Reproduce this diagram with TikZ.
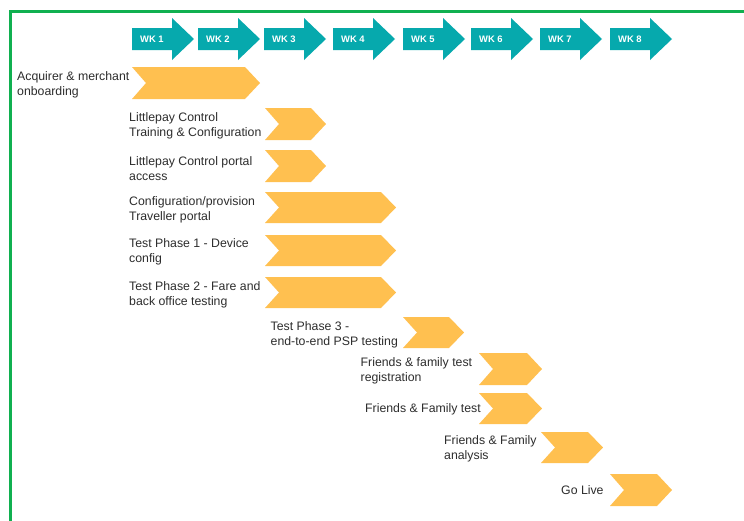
\documentclass[tikz,border=0pt]{standalone}
\usepackage{fontspec}
\setmainfont{Liberation Sans}

\definecolor{framegreen}{RGB}{16,176,80}
\definecolor{weekteal}{RGB}{6,169,173}
\definecolor{barorange}{RGB}{255,192,80}
\definecolor{labelgray}{RGB}{45,45,45}

\tikzset{
  frameline/.style={draw=framegreen, line width=3pt},
  weekfill/.style={fill=weekteal},
  barfill/.style={fill=barorange},
  weeklabel/.style={anchor=west, inner sep=0pt, text=white,
    font=\bfseries\fontsize{9.4}{10}\selectfont},
  tasklabel/.style={anchor=west, inner sep=0pt, align=left, text=labelgray,
    font=\fontsize{12.3}{14.8}\selectfont},
}

% week header arrow: name, left x, label
\newcommand\weekarrow[3]{%
  \fill[weekfill] (#2,28) -- (#2+40,28) -- (#2+40,18) -- (#2+62,39)
    -- (#2+40,60) -- (#2+40,50) -- (#2,50) -- cycle;
  \node[weeklabel] (#1) at (#2+8,39.5) {#3};}

% task chevron: name, left x, right x, top y, bottom y
\newcommand\taskbar[5]{%
  \fill[barfill] (#2,#4) -- (#3-15,#4) -- (#3,{(#4+#5)/2}) -- (#3-15,#5)
    -- (#2,#5) -- (#2+14,{(#4+#5)/2}) -- cycle;
  \coordinate (#1) at (#2,{(#4+#5)/2});}

\begin{document}
\begin{tikzpicture}[x=1pt, y=-1pt]
\useasboundingbox (0,0) rectangle (744,520);
\fill[white] (0,0) rectangle (744,520);

% frame, open to the right and bottom
\begin{scope}
  \clip (0,0) rectangle (744,520);
  \draw[frameline] (10,11) rectangle (770,550);
\end{scope}

% week header
\weekarrow{wk1}{132}{WK 1}
\weekarrow{wk2}{198}{WK 2}
\weekarrow{wk3}{264}{WK 3}
\weekarrow{wk4}{333}{WK 4}
\weekarrow{wk5}{403}{WK 5}
\weekarrow{wk6}{471}{WK 6}
\weekarrow{wk7}{540}{WK 7}
\weekarrow{wk8}{610}{WK 8}

% task bars
\taskbar{t1}{132}{260}{67}{99}
\taskbar{t2}{265}{326}{108}{140}
\taskbar{t3}{265}{326}{150}{182}
\taskbar{t4}{265}{396}{192}{223}
\taskbar{t5}{265}{396}{235}{266}
\taskbar{t6}{265}{396}{277}{308}
\taskbar{t7}{403}{464}{317}{348}
\taskbar{t8}{479}{542}{353}{385}
\taskbar{t9}{479}{542}{393}{424}
\taskbar{t10}{541}{603}{432}{463}
\taskbar{t11}{610}{672}{474}{506}

% task labels
\node[tasklabel] (l1) at (17,85) {Acquirer \& merchant\\onboarding};
\node[tasklabel] (l2) at (129,125.5) {Littlepay Control\\Training \& Configuration};
\node[tasklabel] (l3) at (129,168.5) {Littlepay Control portal\\access};
\node[tasklabel] (l4) at (129,210) {Configuration/provision\\Traveller portal};
\node[tasklabel] (l5) at (129,252) {Test Phase 1 - Device\\config};
\node[tasklabel] (l6) at (129,294.5) {Test Phase 2 - Fare and\\back office testing};
\node[tasklabel] (l7) at (270.5,334.5) {Test Phase 3 -\\end-to-end PSP testing};
\node[tasklabel] (l8) at (360.5,371) {Friends \& family test\\registration};
\node[tasklabel] (l9) at (365,409) {Friends \& Family test};
\node[tasklabel] (l10) at (444,448.5) {Friends \& Family\\analysis};
\node[tasklabel] (l11) at (561,490.5) {Go Live};
\end{tikzpicture}
\end{document}
